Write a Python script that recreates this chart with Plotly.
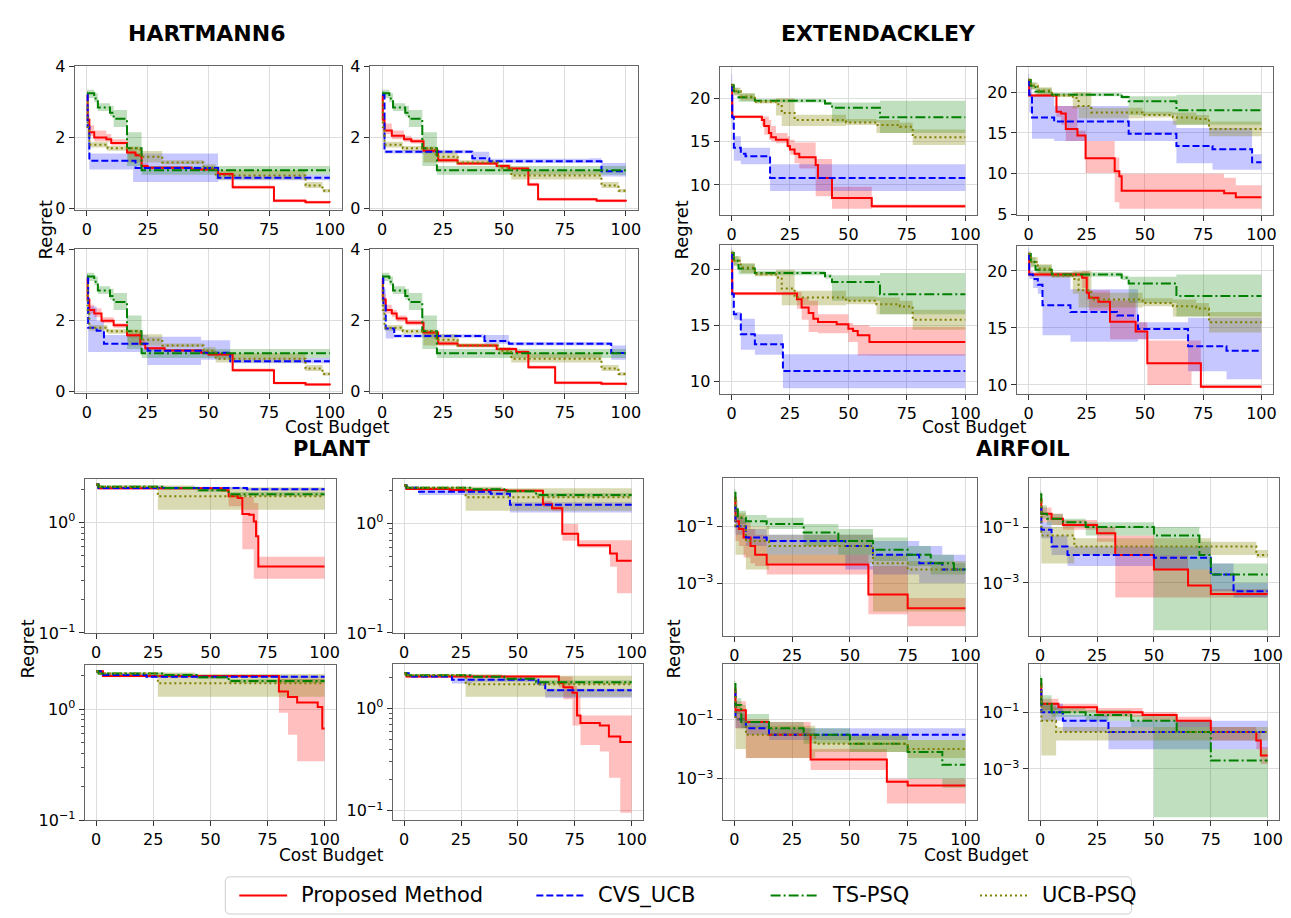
import plotly.graph_objects as go

W, H = 1291, 918

# ---------------- DATA: (cost budget x, mean regret, lower band, upper band) ----------------
# HARTMANN6
HART_TS = [(0, 3.25, 3.12, 3.35), (3, 3.1, 3.0, 3.25), (4.5, 2.85, 2.75, 2.97), (9.5, 2.7, 2.6, 2.9),
           (11, 2.53, 2.3, 2.78), (16.5, 1.7, 1.2, 2.15), (22.5, 1.08, 0.95, 1.2), (100, 1.08, 0.97, 1.2)]
HART_UCBPSQ = [(0, 3.0, 2.8, 3.1), (0.3, 2.3, 2.0, 2.5), (1, 1.8, 1.72, 1.88), (8.5, 1.7, 1.63, 1.76),
               (17, 1.7, 1.3, 1.75), (22, 1.46, 1.3, 1.62), (31, 1.3, 1.25, 1.36), (48, 1.15, 1.05, 1.25),
               (53, 0.93, 0.82, 1.08), (90, 0.65, 0.58, 0.75), (97, 0.5, 0.45, 0.55), (100, 0.5, 0.45, 0.55)]
HART1_PROP = [(0, 3.2, 3.1, 3.3), (0.3, 2.5, 2.35, 2.65), (1, 2.15, 2.05, 2.35), (3, 2.0, 1.9, 2.2),
              (8, 1.95, 1.88, 2.1), (10, 1.85, 1.78, 1.95), (16.5, 1.58, 1.52, 1.66), (20, 1.5, 1.45, 1.56),
              (22.5, 1.2, 1.15, 1.28), (25, 1.15, 1.1, 1.2), (43, 1.1, 1.06, 1.15), (54, 0.97, 0.92, 1.02),
              (60, 0.6, 0.56, 0.65), (77, 0.22, 0.18, 0.27), (90, 0.18, 0.14, 0.22), (100, 0.17, 0.13, 0.21)]
HART1_CVS = [(0, 3.2, 3.1, 3.3), (0.3, 2.3, 1.6, 2.8), (1, 1.35, 1.1, 1.55), (19, 1.35, 0.75, 1.55),
             (20, 1.14, 0.75, 1.55), (54, 0.87, 0.8, 0.95), (100, 0.87, 0.8, 0.95)]
HART2_PROP = [(0, 3.2, 3.1, 3.3), (0.3, 2.5, 2.35, 2.65), (1, 2.2, 2.1, 2.4), (4, 2.05, 1.95, 2.2),
              (9, 1.95, 1.88, 2.05), (12, 1.9, 1.83, 1.97), (17, 1.63, 1.57, 1.7), (23, 1.36, 1.3, 1.42),
              (31, 1.27, 1.22, 1.32), (47, 1.2, 1.15, 1.25), (52, 1.13, 1.08, 1.18), (60, 0.68, 0.63, 0.73),
              (64, 0.26, 0.22, 0.3), (88, 0.22, 0.18, 0.26), (100, 0.2, 0.16, 0.24)]
HART2_CVS = [(0, 3.2, 3.1, 3.3), (1, 1.6, 1.55, 1.65), (37, 1.42, 1.35, 1.6), (44, 1.33, 1.28, 1.4),
             (85, 1.33, 1.28, 1.42), (90, 1.05, 0.9, 1.28), (100, 1.05, 0.9, 1.28)]
HART3_PROP = [(0, 3.2, 3.1, 3.3), (0.3, 2.6, 2.45, 2.75), (1, 2.3, 2.2, 2.45), (3, 2.2, 2.1, 2.35),
              (6, 2.0, 1.93, 2.1), (11, 1.87, 1.8, 1.93), (16.5, 1.59, 1.53, 1.65), (22, 1.35, 1.28, 1.42),
              (24, 1.22, 1.17, 1.27), (32, 1.16, 1.12, 1.2), (47, 1.1, 1.05, 1.15), (50, 1.05, 1.0, 1.1),
              (60, 0.6, 0.56, 0.65), (77, 0.24, 0.2, 0.28), (90, 0.2, 0.16, 0.24), (100, 0.18, 0.14, 0.22)]
HART3_CVS = [(0, 3.2, 3.1, 3.3), (0.5, 1.8, 1.12, 2.4), (4, 1.72, 1.12, 2.0), (7, 1.35, 1.12, 1.6),
             (25, 1.15, 0.75, 1.55), (47, 1.1, 0.9, 1.45), (59, 0.86, 0.8, 0.95), (100, 0.86, 0.8, 0.95)]
HART4_PROP = [(0, 3.2, 3.1, 3.3), (0.3, 2.6, 2.45, 2.75), (1.5, 2.3, 2.2, 2.45), (4, 2.2, 2.1, 2.3),
              (6, 2.06, 1.98, 2.15), (10, 1.94, 1.87, 2.02), (17, 1.67, 1.6, 1.72), (23, 1.36, 1.3, 1.42),
              (31, 1.3, 1.25, 1.35), (47, 1.2, 1.15, 1.25), (55, 1.12, 1.07, 1.17), (60, 0.69, 0.64, 0.74),
              (71, 0.25, 0.21, 0.29), (90, 0.22, 0.18, 0.26), (100, 0.19, 0.15, 0.23)]
HART4_CVS = [(0, 3.2, 3.1, 3.3), (0.5, 2.5, 2.2, 2.9), (1.5, 1.78, 1.5, 1.82), (5, 1.57, 1.52, 1.62),
             (42, 1.43, 1.35, 1.6), (52, 1.35, 1.3, 1.4), (94, 1.09, 0.9, 1.3), (100, 1.09, 0.9, 1.3)]

# EXTENDACKLEY
ACK_TS = [(0, 21.5, 21.2, 21.7), (1, 20.8, 20.4, 21.2), (3, 20.1, 19.6, 20.5), (10, 19.7, 19.5, 19.9),
          (40, 19.4, 19.2, 19.6), (43, 18.9, 17.2, 19.5), (63.5, 17.8, 16.0, 19.7), (100, 17.8, 16.0, 19.7)]
ACK_UCBPSQ = [(0, 21.5, 21.2, 21.7), (1, 20.8, 20.3, 21.2), (4, 20.2, 19.7, 20.6), (10, 19.6, 19.4, 19.8),
              (19, 19.3, 18.0, 20.0), (21.5, 18.3, 16.8, 20.0), (27, 17.5, 16.8, 18.1), (49, 17.2, 16.9, 17.6),
              (62, 16.9, 16.0, 17.5), (72, 16.7, 16.0, 17.2), (77.5, 15.5, 14.6, 16.4), (100, 15.5, 14.6, 16.4)]
ACK1_PROP = [(0, 21.5, 21.2, 21.7), (0.3, 17.85, 17.7, 18.0), (13, 17.5, 16.8, 17.9), (14, 16.8, 15.8, 17.9),
             (16, 16.0, 15.2, 17.5), (17, 15.5, 15.0, 16.8), (19, 15.2, 14.8, 16.0), (24, 14.5, 14.2, 15.6),
             (25, 14.1, 13.5, 15.2), (27, 13.6, 12.5, 14.9), (29, 13.2, 11.9, 14.9), (36, 12.3, 8.7, 13.0),
             (37, 10.8, 8.7, 13.0), (43, 8.5, 7.25, 9.8), (60, 7.55, 7.35, 7.75), (100, 7.55, 7.35, 7.75)]
ACK1_CVS = [(0, 21.5, 20.5, 22.8), (0.3, 17.8, 16.5, 19.5), (1, 14.3, 12.8, 15.6), (4, 13.6, 12.4, 14.3),
            (6, 13.3, 12.4, 14.3), (16.5, 10.8, 9.3, 12.4), (100, 10.8, 9.3, 12.4)]
ACK2_PROP = [(0, 21.5, 21.2, 21.7), (0.3, 19.6, 19.4, 19.8), (12, 17.6, 17.0, 18.3), (14, 17.4, 16.0, 18.3),
             (16, 15.5, 14.0, 18.3), (21, 14.7, 14.0, 15.3), (24.5, 11.9, 10.1, 14.0), (37, 10.3, 6.5, 12.0),
             (39, 9.7, 5.7, 10.0), (40, 7.9, 5.7, 10.0), (84, 7.6, 5.7, 9.5), (89, 7.1, 5.7, 8.6),
             (100, 7.1, 5.7, 8.6)]
ACK2_CVS = [(0, 21.5, 20.5, 22.3), (0.3, 19.7, 17.5, 21.0), (1.5, 16.9, 14.3, 19.7), (11, 16.4, 14.0, 18.3),
            (43, 14.9, 14.0, 16.5), (63.5, 13.4, 11.3, 15.6), (79, 13.0, 10.5, 15.6), (96, 11.4, 10.5, 12.4),
            (100, 11.4, 10.5, 12.4)]
ACK3_PROP = [(0, 21.5, 21.2, 21.7), (0.3, 17.85, 17.7, 18.0), (28, 17.35, 16.5, 18.0), (30, 16.6, 15.5, 17.5),
             (33, 16.1, 14.4, 17.2), (35, 15.6, 14.4, 17.2), (37, 15.3, 14.3, 16.0), (45, 15.1, 14.3, 16.0),
             (50, 14.7, 13.5, 15.2), (52, 14.5, 13.5, 15.0), (54, 14.1, 12.3, 15.0), (59, 13.5, 12.26, 14.85),
             (100, 13.5, 12.26, 14.85)]
ACK3_CVS = [(0, 21.5, 21.0, 22.0), (0.3, 17.8, 16.5, 19.0), (1, 16.0, 15.5, 16.2), (4, 14.2, 12.8, 15.6),
            (10, 13.3, 12.35, 14.2), (22, 10.9, 9.35, 12.4), (100, 10.9, 9.35, 12.4)]
ACK4_PROP = [(0, 21.5, 21.2, 21.7), (0.3, 19.7, 19.5, 19.9), (23, 19.4, 18.5, 20.0), (25, 18.1, 17.5, 20.0),
             (26, 17.65, 16.5, 18.3), (30, 17.3, 16.5, 18.3), (35, 15.55, 14.0, 17.4), (46, 14.7, 14.0, 15.5),
             (51, 11.9, 10.0, 13.9), (70, 11.9, 11.2, 13.9), (74, 9.85, 9.7, 10.0), (100, 9.85, 9.7, 10.0)]
ACK4_CVS = [(0, 21.5, 21.0, 22.0), (0.3, 19.7, 19.3, 20.0), (2, 19.3, 18.5, 19.7), (4, 18.8, 18.0, 19.6),
            (6, 17.0, 14.35, 19.65), (18, 16.4, 13.8, 18.4), (38, 16.1, 13.8, 18.4), (47, 14.9, 14.0, 15.5),
            (68.5, 13.4, 11.2, 15.9), (85, 13.0, 10.5, 15.9), (100, 13.0, 10.5, 15.9)]

# PLANT
PLANT_TS = [(0, 2.2, 2.15, 2.25), (1, 2.1, 2.05, 2.15), (30, 2.04, 1.98, 2.1), (44, 1.95, 1.88, 2.02),
            (58, 1.8, 1.72, 1.88), (100, 1.8, 1.72, 1.88)]
PLANT_UCBPSQ = [(0, 2.2, 2.15, 2.25), (1, 2.1, 2.05, 2.15), (27, 1.72, 1.3, 2.15), (43, 1.72, 1.3, 2.08),
                (100, 1.72, 1.3, 2.08)]
PLANT1_PROP = [(0, 2.2, 2.15, 2.25), (1, 2.03, 1.98, 2.08), (55, 1.95, 1.9, 2.0), (58, 1.72, 1.4, 1.8),
               (62, 1.66, 1.4, 1.75), (64, 1.19, 0.57, 1.7), (67, 1.17, 0.57, 1.7), (69, 1.02, 0.31, 1.5),
               (70, 0.75, 0.31, 1.5), (71, 0.40, 0.31, 0.49), (100, 0.40, 0.31, 0.49)]
PLANT1_CVS = [(0, 2.2, 2.15, 2.25), (1, 2.04, 1.98, 2.1), (66, 1.99, 1.94, 2.04), (100, 1.99, 1.94, 2.04)]
PLANT2_PROP = [(0, 2.2, 2.15, 2.25), (1, 2.05, 2.0, 2.1), (20, 2.0, 1.95, 2.05), (45, 1.97, 1.92, 2.02),
               (61, 1.49, 1.4, 1.6), (65, 1.37, 1.3, 1.45), (69.5, 0.80, 0.69, 0.98), (76.5, 0.63, 0.6, 0.7),
               (90.5, 0.53, 0.4, 0.7), (93.5, 0.455, 0.23, 0.7), (100, 0.455, 0.23, 0.7)]
PLANT2_CVS = [(0, 2.2, 2.15, 2.25), (1, 2.1, 2.05, 2.15), (6.5, 1.93, 1.8, 2.0), (38, 1.85, 1.78, 1.95),
              (46.5, 1.47, 1.25, 1.55), (100, 1.47, 1.25, 1.55)]
PLANT3_PROP = [(0, 2.2, 2.15, 2.25), (3, 2.0, 1.95, 2.05), (80, 1.45, 0.93, 1.9), (84, 1.29, 0.59, 1.9),
               (88, 1.15, 0.34, 1.9), (97, 1.05, 0.34, 1.9), (99, 0.67, 0.34, 1.9), (100, 0.67, 0.34, 1.9)]
PLANT3_CVS = [(0, 2.2, 2.15, 2.25), (2, 2.04, 1.99, 2.09), (22, 1.97, 1.92, 2.02), (100, 1.97, 1.92, 2.02)]
PLANT4_PROP = [(0, 2.2, 2.15, 2.25), (1, 2.05, 2.0, 2.1), (68, 1.77, 1.6, 2.05), (70, 1.61, 1.23, 2.05),
               (74, 1.42, 0.68, 1.65), (76, 0.85, 0.68, 1.3), (77.5, 0.72, 0.44, 0.85), (86, 0.68, 0.38, 0.85),
               (90, 0.53, 0.21, 0.85), (95, 0.47, 0.096, 0.85), (100, 0.47, 0.096, 0.85)]
PLANT4_CVS = [(0, 2.2, 2.15, 2.25), (2, 2.05, 2.0, 2.1), (21, 1.9, 1.75, 2.0), (30, 1.9, 1.82, 1.97),
              (59, 1.75, 1.65, 1.85), (62, 1.5, 1.27, 1.55), (100, 1.5, 1.27, 1.55)]

# AIRFOIL
AIR1_PROP = [(0, 1.0, 0.5, 1.5), (0.5, 0.15, 0.03, 0.4), (2, 0.08, 0.02, 0.25), (4, 0.04, 0.008, 0.15),
             (7, 0.02, 0.005, 0.08), (9, 0.01, 0.004, 0.05), (14, 0.0045, 0.002, 0.01), (58, 0.0004, 8e-5, 0.004),
             (75, 0.00013, 3e-5, 0.0003), (100, 0.00013, 3e-5, 0.0003)]
AIR1_CVS = [(0, 0.5, 0.3, 1.0), (0.5, 0.1, 0.05, 0.2), (5, 0.04, 0.02, 0.08), (14, 0.03, 0.01, 0.05),
            (48, 0.02, 0.003, 0.05), (60, 0.01, 0.002, 0.03), (80, 0.005, 0.001, 0.02), (90, 0.003, 0.001, 0.01),
            (100, 0.003, 0.001, 0.01)]
AIR1_TS = [(0, 1.5, 1.0, 2.0), (0.5, 0.4, 0.2, 0.8), (1.5, 0.2, 0.12, 0.35), (5, 0.15, 0.1, 0.25),
           (14, 0.12, 0.08, 0.2), (30, 0.06, 0.02, 0.12), (45, 0.03, 0.01, 0.08), (60, 0.015, 0.006, 0.04),
           (75, 0.01, 0.004, 0.02), (85, 0.005, 0.002, 0.01), (95, 0.003, 0.002, 0.005), (100, 0.003, 0.002, 0.005)]
AIR1_UCBPSQ = [(0, 0.8, 0.4, 1.2), (0.5, 0.1, 0.01, 0.3), (5, 0.03, 0.003, 0.1), (15, 0.02, 0.005, 0.05),
               (60, 0.005, 0.0001, 0.01), (75, 0.003, 0.0001, 0.006), (100, 0.003, 0.0001, 0.006)]
AIR2_PROP = [(0, 1.0, 0.6, 1.5), (0.5, 0.3, 0.15, 0.5), (5, 0.2, 0.12, 0.3), (10, 0.12, 0.08, 0.18),
             (25, 0.06, 0.03, 0.1), (33, 0.01, 0.0003, 0.05), (50, 0.003, 0.0003, 0.01), (65, 0.0008, 0.0003, 0.003),
             (75, 0.0004, 0.0003, 0.0006), (100, 0.0004, 0.0003, 0.0006)]
AIR2_CVS = [(0, 0.5, 0.3, 1.0), (0.5, 0.08, 0.04, 0.15), (5, 0.02, 0.01, 0.05), (12, 0.01, 0.004, 0.02),
            (50, 0.008, 0.003, 0.02), (75, 0.002, 0.0005, 0.005), (85, 0.0005, 0.0003, 0.001),
            (100, 0.0005, 0.0003, 0.001)]
AIR2_TS = [(0, 1.5, 1.0, 2.0), (0.5, 0.3, 0.2, 0.6), (3, 0.2, 0.12, 0.3), (10, 0.15, 0.1, 0.2),
           (20, 0.1, 0.05, 0.15), (50, 0.05, 2e-5, 0.1), (70, 0.01, 2e-5, 0.03), (75, 0.002, 2e-5, 0.005),
           (100, 0.002, 2e-5, 0.005)]
AIR2_UCBPSQ = [(0, 0.8, 0.4, 1.2), (0.5, 0.05, 0.005, 0.1), (15, 0.02, 0.01, 0.04), (75, 0.02, 0.01, 0.03),
               (95, 0.01, 0.008, 0.015), (100, 0.01, 0.008, 0.015)]
AIR3_PROP = [(0, 1.0, 0.5, 1.5), (0.5, 0.2, 0.05, 0.4), (5, 0.08, 0.005, 0.1), (15, 0.03, 0.005, 0.08),
             (33, 0.0045, 0.002, 0.01), (66, 0.0008, 0.00015, 0.001), (75, 0.0006, 0.00015, 0.001),
             (100, 0.0006, 0.00015, 0.001)]
AIR3_CVS = [(0, 0.8, 0.4, 1.2), (0.5, 0.1, 0.05, 0.2), (5, 0.05, 0.03, 0.08), (15, 0.03, 0.02, 0.05),
            (100, 0.03, 0.02, 0.05)]
AIR3_TS = [(0, 1.5, 1.0, 2.0), (0.5, 0.3, 0.15, 0.5), (3, 0.08, 0.05, 0.15), (15, 0.05, 0.03, 0.08),
           (30, 0.03, 0.015, 0.05), (50, 0.015, 0.008, 0.03), (75, 0.008, 0.001, 0.02), (90, 0.003, 0.0005, 0.02),
           (100, 0.003, 0.0005, 0.02)]
AIR3_UCBPSQ = [(0, 0.8, 0.4, 1.2), (0.5, 0.1, 0.01, 0.3), (5, 0.03, 0.005, 0.06), (35, 0.015, 0.008, 0.03),
               (75, 0.01, 0.005, 0.02), (100, 0.01, 0.005, 0.02)]
AIR4_PROP = [(0, 1.0, 0.5, 1.5), (0.5, 0.2, 0.12, 0.3), (8, 0.15, 0.1, 0.2), (25, 0.1, 0.07, 0.14),
             (45, 0.08, 0.05, 0.1), (60, 0.05, 0.03, 0.07), (75, 0.02, 0.01, 0.03), (95, 0.01, 0.005, 0.02),
             (97, 0.003, 0.0015, 0.006), (100, 0.003, 0.0015, 0.006)]
AIR4_CVS = [(0, 0.6, 0.3, 1.0), (0.5, 0.1, 0.05, 0.2), (10, 0.05, 0.02, 0.08), (30, 0.02, 0.005, 0.05),
            (100, 0.02, 0.005, 0.05)]
AIR4_TS = [(0, 1.5, 1.0, 2.0), (0.5, 0.2, 0.1, 0.4), (5, 0.1, 0.07, 0.15), (20, 0.08, 0.05, 0.12),
           (40, 0.05, 0.03, 0.08), (50, 0.05, 2e-5, 0.08), (60, 0.02, 2e-5, 0.05), (75, 0.002, 2e-5, 0.005),
           (100, 0.002, 2e-5, 0.005)]
AIR4_UCBPSQ = [(0, 0.8, 0.4, 1.2), (0.5, 0.05, 0.003, 0.2), (7, 0.02, 0.01, 0.03), (100, 0.02, 0.01, 0.03)]

X_TICKS = [0, 25, 50, 75, 100]
HART_YTICKS = [0, 2, 4]
ACK_YTICKS = [5, 10, 15, 20]
PLANT_YTICKS = [0.1, 1]
PLANT_YTEXT = ["10<sup>\u22121</sup>", "10<sup>0</sup>"]
AIR_YTICKS = [1e-3, 1e-1]
AIR_YTEXT = ["10<sup>\u22123</sup>", "10<sup>\u22121</sup>"]
LEGEND_NAMES = ["Proposed Method", "CVS_UCB", "TS-PSQ", "UCB-PSQ"]

# ---------------- LAYOUT / STYLE ----------------
STYLE = {
    "Proposed Method": dict(color="#ff0000", dash="solid", fill="rgba(255,0,0,0.25)"),
    "CVS_UCB": dict(color="#0000ff", dash="7px,3px", fill="rgba(0,0,255,0.22)"),
    "TS-PSQ": dict(color="#008000", dash="10px,3px,2px,3px", fill="rgba(0,128,0,0.25)"),
    "UCB-PSQ": dict(color="#808000", dash="2px,3px", fill="rgba(128,128,0,0.3)"),
}

# panel: (pixel box [left, right, top, bottom], y kind, y range, series)
PANELS = [
    ([67, 335, 50, 197], "hart", [-0.04, 4.02], [HART1_PROP, HART1_CVS, HART_TS, HART_UCBPSQ]),
    ([363, 632, 50, 197], "hart", [-0.04, 4.02], [HART2_PROP, HART2_CVS, HART_TS, HART_UCBPSQ]),
    ([67, 335, 237, 384], "hart", [-0.04, 4.02], [HART3_PROP, HART3_CVS, HART_TS, HART_UCBPSQ]),
    ([363, 632, 237, 384], "hart", [-0.04, 4.02], [HART4_PROP, HART4_CVS, HART_TS, HART_UCBPSQ]),
    ([714, 972, 51, 202], "ack", [6.56, 23.6], [ACK1_PROP, ACK1_CVS, ACK_TS, ACK_UCBPSQ]),
    ([1012, 1269, 51, 202], "ack", [4.96, 23.1], [ACK2_PROP, ACK2_CVS, ACK_TS, ACK_UCBPSQ]),
    ([714, 972, 233, 385], "ack", [8.83, 22.2], [ACK3_PROP, ACK3_CVS, ACK_TS, ACK_UCBPSQ]),
    ([1012, 1269, 234, 385], "ack", [9.2, 22.18], [ACK4_PROP, ACK4_CVS, ACK_TS, ACK_UCBPSQ]),
    ([77, 329, 472, 629], "plant", [-1.0, 0.39], [PLANT1_PROP, PLANT1_CVS, PLANT_TS, PLANT_UCBPSQ]),
    ([386, 637, 472, 629], "plant", [-1.0, 0.40], [PLANT2_PROP, PLANT2_CVS, PLANT_TS, PLANT_UCBPSQ]),
    ([77, 329, 662, 820], "plant", [-1.0, 0.397], [PLANT3_PROP, PLANT3_CVS, PLANT_TS, PLANT_UCBPSQ]),
    ([386, 637, 661, 820], "plant", [-1.09, 0.43], [PLANT4_PROP, PLANT4_CVS, PLANT_TS, PLANT_UCBPSQ]),
    ([717, 972, 471, 632], "air", [-4.86, 0.69], [AIR1_PROP, AIR1_CVS, AIR1_TS, AIR1_UCBPSQ]),
    ([1024, 1275, 471, 632], "air", [-4.9, 0.75], [AIR2_PROP, AIR2_CVS, AIR2_TS, AIR2_UCBPSQ]),
    ([717, 972, 661, 820], "air", [-4.38, 0.84], [AIR3_PROP, AIR3_CVS, AIR3_TS, AIR3_UCBPSQ]),
    ([1024, 1275, 661, 820], "air", [-4.8, 0.69], [AIR4_PROP, AIR4_CVS, AIR4_TS, AIR4_UCBPSQ]),
]

FONT = "DejaVu Sans"
TICKFONT = dict(family=FONT, size=16, color="black")
FRAME = "#666666"
GRID = "#dddddd"

fig = go.Figure()
layout = dict(
    width=W, height=H, margin=dict(l=0, r=0, t=0, b=0),
    paper_bgcolor="white", plot_bgcolor="white", showlegend=False,
    font=dict(family=FONT, color="black"),
)

for i, (box, kind, yr, series) in enumerate(PANELS, start=1):
    l, r, t, b = box
    xa = dict(domain=[l / W, r / W], anchor=f"y{i}", range=[-5, 105], tickvals=X_TICKS,
              showgrid=True, gridcolor=GRID, gridwidth=1, zeroline=False,
              showline=True, mirror=True, linecolor=FRAME, linewidth=1.3,
              ticks="outside", ticklen=5, tickcolor="#333", tickfont=TICKFONT)
    ya = dict(domain=[1 - b / H, 1 - t / H], anchor=f"x{i}", range=yr,
              showgrid=True, gridcolor=GRID, gridwidth=1, zeroline=False,
              showline=True, mirror=True, linecolor=FRAME, linewidth=1.3,
              ticks="outside", ticklen=5, tickcolor="#333", tickfont=TICKFONT)
    if kind == "hart":
        ya["tickvals"] = HART_YTICKS
    elif kind == "ack":
        ya["tickvals"] = ACK_YTICKS
    elif kind == "plant":
        ya.update(type="log", tickvals=PLANT_YTICKS, ticktext=PLANT_YTEXT,
                  minor=dict(tickvals=[0.2, 0.3, 0.4, 0.5, 0.6, 0.7, 0.8, 0.9, 2], ticks="outside",
                             ticklen=3, tickcolor="#555", showgrid=False))
    else:
        ya.update(type="log", tickvals=AIR_YTICKS, ticktext=AIR_YTEXT)
    layout[f"xaxis{i}"] = xa
    layout[f"yaxis{i}"] = ya

    for name, data in zip(LEGEND_NAMES, series):
        xs = [d[0] for d in data]
        lo = [d[2] for d in data]
        hi = [d[3] for d in data]
        st = STYLE[name]
        fig.add_trace(go.Scatter(x=xs, y=lo, mode="lines", line=dict(width=0, shape="hv"),
                                 xaxis=f"x{i}", yaxis=f"y{i}", showlegend=False, hoverinfo="skip"))
        fig.add_trace(go.Scatter(x=xs, y=hi, mode="lines", line=dict(width=0, shape="hv"),
                                 fill="tonexty", fillcolor=st["fill"],
                                 xaxis=f"x{i}", yaxis=f"y{i}", showlegend=False, hoverinfo="skip"))
    for name, data in zip(LEGEND_NAMES, series):
        xs = [d[0] for d in data]
        ys = [d[1] for d in data]
        st = STYLE[name]
        fig.add_trace(go.Scatter(x=xs, y=ys, mode="lines", name=name,
                                 line=dict(color=st["color"], dash=st["dash"], width=2, shape="hv"),
                                 xaxis=f"x{i}", yaxis=f"y{i}", showlegend=False, legendgroup=name))

annotations = []
def txt(text, x, y, size, bold=False, angle=0, anchor="center"):
    annotations.append(dict(text=f"<b>{text}</b>" if bold else text, x=x / W, y=1 - y / H,
                            xref="paper", yref="paper", showarrow=False, textangle=angle,
                            xanchor=anchor, yanchor="middle",
                            font=dict(family=FONT, size=size, color="black")))

txt("HARTMANN6", 199, 17, 22, bold=True)
txt("EXTENDACKLEY", 873, 17, 22, bold=True)
txt("PLANT", 325, 441, 21, bold=True)
txt("AIRFOIL", 1018, 441, 21, bold=True)
for (x, y) in [(38, 217), (676, 217), (20, 645), (668, 645)]:
    txt("Regret", x, y, 18, angle=-90)
for (x, y) in [(331, 419), (970, 419), (325, 856), (972, 856)]:
    txt("Cost Budget", x, y, 17)

# legend drawn as a framed row of line samples and labels
shapes = []
LX0, LX1, LY0, LY1, RAD = 218, 1127, 878, 916, 5
def px(x): return x / W
def py(y): return 1 - y / H
shapes.append(dict(type="path", xref="paper", yref="paper",
                   path=(f"M {px(LX0 + RAD)},{py(LY0)} L {px(LX1 - RAD)},{py(LY0)} "
                         f"Q {px(LX1)},{py(LY0)} {px(LX1)},{py(LY0 + RAD)} L {px(LX1)},{py(LY1 - RAD)} "
                         f"Q {px(LX1)},{py(LY1)} {px(LX1 - RAD)},{py(LY1)} L {px(LX0 + RAD)},{py(LY1)} "
                         f"Q {px(LX0)},{py(LY1)} {px(LX0)},{py(LY1 - RAD)} L {px(LX0)},{py(LY0 + RAD)} "
                         f"Q {px(LX0)},{py(LY0)} {px(LX0 + RAD)},{py(LY0)} Z"),
                   line=dict(color="#cccccc", width=1), fillcolor="white"))
LEG_SAMPLE_X = [232, 530, 765, 975]
LEG_Y = 897
for name, x0 in zip(LEGEND_NAMES, LEG_SAMPLE_X):
    st = STYLE[name]
    shapes.append(dict(type="line", xref="paper", yref="paper", x0=px(x0), x1=px(x0 + 48),
                       y0=py(LEG_Y), y1=py(LEG_Y),
                       line=dict(color=st["color"], width=2, dash=st["dash"])))
    txt(name, x0 + 60, LEG_Y, 21, anchor="left")

layout["annotations"] = annotations
layout["shapes"] = shapes

fig.update_layout(**layout)
fig.write_html("out.html")
